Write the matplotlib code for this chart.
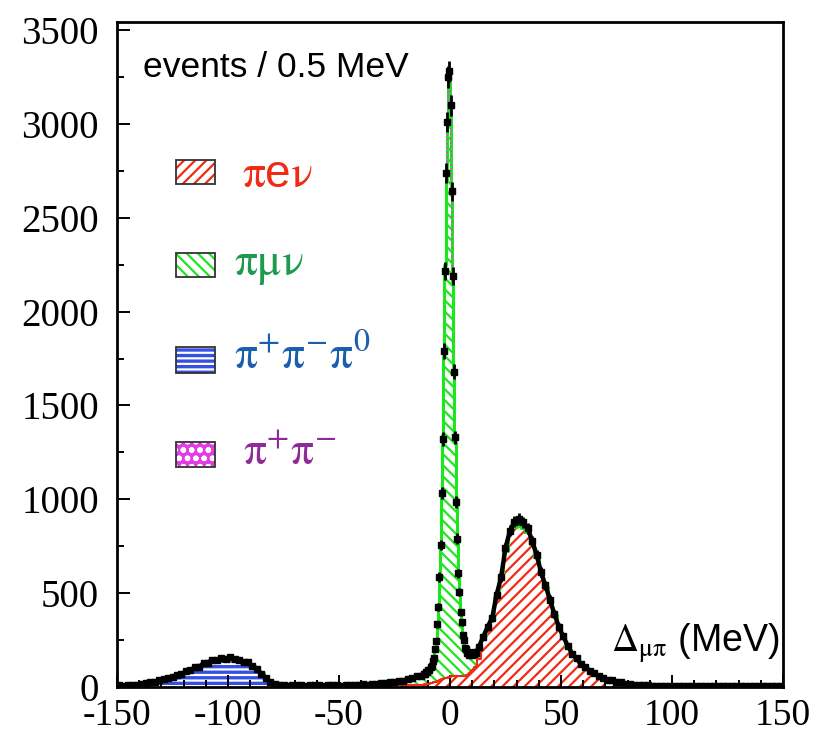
import numpy as np
import matplotlib.pyplot as plt
from matplotlib.patches import Rectangle
from matplotlib.ticker import MultipleLocator

plt.rcParams['hatch.linewidth'] = 1.6
plt.rcParams['axes.unicode_minus'] = False
plt.rcParams['mathtext.fontset'] = 'stix'

# Bin edges in MeV: 2 MeV bins in the tails, 0.5 MeV bins around the muon peak.
edges = np.concatenate([np.arange(-150, -12, 2.0),
                        np.arange(-12, 12, 0.5),
                        np.arange(12, 150.001, 2.0)])

# Heights are events per 0.5 MeV.
# --- left tail, bin centres -149 ... -13 ---
blue_left = [0, 0, 2, 4, 6, 9, 12, 16, 21, 27, 33, 40, 47, 55, 63, 72, 82, 92, 102, 112,
             120, 127, 131, 134, 136, 136, 134, 130, 124, 116, 105, 88, 64, 38, 18, 7, 2, 0,
             0, 0, 0, 0, 0, 0, 0, 0, 0, 0, 0, 0, 0, 0, 0, 0, 0, 0, 0, 0, 0, 0, 0, 0, 0, 0, 0,
             0, 0, 0, 0]
red_left = [0, 0, 0, 0, 0, 0, 0, 0, 0, 0, 0, 0, 0, 0, 0, 0, 0, 0, 0, 0,
            0, 0, 0, 0, 0, 0, 0, 0, 0, 0, 0, 0, 0, 0, 0, 0, 0, 0, 0, 0,
            0, 0, 0, 0, 0, 0, 0, 0, 0, 0, 0, 1, 2, 2, 3, 3, 4, 5, 5, 6,
            7, 8, 9, 10, 10, 11, 11, 12, 12]
green_left = [8, 8, 8, 8, 8, 8, 8, 8, 8, 8, 8, 8, 8, 8, 8, 8, 8, 8, 8, 8,
              8, 8, 8, 8, 8, 8, 8, 8, 8, 8, 8, 8, 8, 8, 8, 8, 8, 8, 8, 8,
              8, 8, 8, 8, 8, 8, 8, 8, 8, 8, 8, 8, 8, 9, 9, 10, 10, 11, 12, 13,
              14, 16, 18, 21, 25, 30, 36, 42, 50]
mag_left = [0, 0, 0, 0, 0, 0, 0, 0, 0, 0, 0, 0, 0, 0, 0, 0, 0, 0, 0, 4,
            5, 6, 7, 8, 8, 8, 7, 6, 5, 4, 0, 0, 0, 0, 0, 0, 0, 0, 0, 0,
            0, 0, 0, 0, 0, 0, 0, 0, 0, 0, 0, 0, 0, 0, 0, 0, 0, 0, 0, 0,
            0, 0, 0, 0, 0, 0, 0, 0, 0]
data_left = [10, 7, 11, 13, 12, 18, 19, 26, 27, 37, 40, 50, 53, 66, 69, 83, 88, 104, 108, 127,
             130, 146, 143, 156, 149, 158, 147, 146, 134, 131, 110, 98, 70, 48, 24, 16, 9, 10,
             7, 9, 8, 10, 7, 9, 8, 10, 7, 9, 8, 9, 7, 11, 9, 12, 11, 14, 13, 17, 16, 20,
             20, 25, 26, 33, 34, 43, 46, 56, 61]

# --- peak region, bin centres -11.75 ... 11.75 ---
red_mid = [13, 14, 15, 16, 17, 18, 20, 21, 23, 25, 27, 29, 31, 33, 35, 37, 40, 42, 44, 46,
           48, 50, 52, 54, 55, 56, 56, 56, 56, 56, 56, 56, 56, 57, 57, 58, 59, 61, 63, 66,
           69, 73, 78, 84, 90, 97, 105, 114]
green_mid = [55, 58, 62, 66, 70, 76, 84, 95, 110, 135, 170, 220, 295, 400, 540, 730, 980, 1300,
             1720, 2200, 2650, 2980, 3200, 3220, 3000, 2600, 2100, 1650, 1250, 950, 720, 560,
             440, 350, 280, 225, 185, 155, 135, 120, 110, 102, 96, 90, 85, 80, 76, 72]
mag_mid = [0, 0, 0, 0, 0, 0, 0, 0, 0, 0, 0, 0, 0, 0, 0, 0, 0, 0, 0, 0,
           10, 15, 20, 25, 20, 15, 10, 0, 0, 0, 0, 0, 0, 0, 0, 0, 0, 0, 0, 0,
           0, 0, 0, 0, 0, 0, 0, 0]
data_mid = [70, 69, 80, 79, 90, 92, 108, 113, 138, 156, 203, 244, 333, 425, 586, 755, 1035, 1320,
            1790, 2215, 2740, 3010, 3250, 3280, 3100, 2640, 2190, 1680, 1330, 985, 790, 605,
            505, 398, 345, 276, 250, 210, 203, 182, 184, 171, 178, 170, 179, 174, 186, 183]

# --- right tail, bin centres 13 ... 149 ---
red_right = [150, 250, 300, 365, 475, 585, 720, 815, 850, 855, 845, 820, 760, 690, 600, 530,
             455, 380, 315, 262, 212, 178, 145, 122, 100, 83, 68, 56, 45, 37, 30, 24, 19, 15,
             12, 9, 7, 5, 4, 3, 2, 1,
             0, 0, 0, 0, 0, 0, 0, 0, 0,
             0, 0, 0, 0, 0, 0, 0, 0, 0,
             0, 0, 0, 0, 0, 0, 0, 0, 0]
green_right = [60, 25, 12, 8, 6, 5, 5, 4, 4, 4, 4, 4, 4,
               3, 3, 3, 3, 3, 3, 3, 3, 3, 3, 3, 3, 3, 3, 3, 3, 3, 3, 3, 3, 3, 3, 3, 3,
               4, 4, 4, 4, 4, 4, 4, 4, 4, 4, 4, 4, 4, 4, 4, 4, 4, 4, 4, 4, 4, 4, 4, 4,
               4, 4, 4, 4, 4, 4, 4, 4]
data_right = [214, 268, 322, 368, 492, 584, 741, 832, 880, 895, 878, 845, 779, 705, 612, 541,
              466, 389, 322, 270, 221, 178, 152, 121, 106, 84, 74, 57, 50, 38, 35, 26, 24, 17,
              16, 11, 11, 8, 9, 7, 7, 6,
              5, 6, 4, 6, 5, 7, 4, 5, 6, 4, 5, 7, 5, 4, 6, 5, 4, 6, 5, 7, 4, 5, 6, 5, 4, 6, 5]

n_left, n_mid, n_right = len(red_left), len(red_mid), len(red_right)
blue = np.array(blue_left + [0] * n_mid + [0] * n_right, float)
red = np.array(red_left + red_mid + red_right, float)
green = np.array(green_left + green_mid + green_right, float)
mag = np.array(mag_left + mag_mid + [0] * n_right, float)
data = np.array(data_left + data_mid + data_right, float)
centres = 0.5 * (edges[:-1] + edges[1:])

RED = '#f02a14'
GREEN = '#1ee61e'
BLUE = '#3550e2'
MAG = '#e43ce4'

fig = plt.figure(figsize=(8.16, 7.34), dpi=100)
ax = fig.add_axes([117 / 816, 47 / 734, 666 / 816, 665 / 734])

# stacked Monte Carlo components
top1 = blue
top2 = top1 + red
top3 = top2 + green
top4 = top3 + mag

ax.stairs(top1, edges, baseline=0, fill=True, facecolor=BLUE, edgecolor='white',
          hatch='---', linewidth=0, zorder=1)
ax.stairs(top2, edges, baseline=top1, fill=True, facecolor='white', edgecolor=RED,
          hatch='///', linewidth=0, zorder=1)
ax.stairs(top3, edges, baseline=top2, fill=True, facecolor='white', edgecolor=GREEN,
          hatch='\\\\\\', linewidth=0, zorder=1)
ax.stairs(top4, edges, baseline=top3, fill=True, facecolor=MAG, edgecolor='white',
          hatch='oo', linewidth=0, zorder=1)


def outline(top, comp, color, lw, ls='-'):
    xs = np.repeat(edges, 2)[1:-1]
    ys = np.repeat(np.where(comp > 0, top, np.nan), 2)
    ax.plot(xs, ys, color=color, lw=lw, ls=ls, zorder=2)


outline(top1, blue, BLUE, 1.2)
outline(top2, red, RED, 1.5)
outline(top3, green, GREEN, 2.2)
outline(top4, mag, MAG, 1.2, ':')

# measured events: dense points with statistical error bars
ax.errorbar(centres, data, yerr=np.sqrt(data), fmt='s', ms=4.2, mfc='black', mec='black',
            ecolor='black', elinewidth=2.0, capsize=0, zorder=4)
# the coarse-binned tails read as a continuous band of points
ax.plot(centres[:n_left + 1], data[:n_left + 1], color='black', lw=3.2, zorder=4)
ax.plot(centres[n_left + n_mid - 1:], data[n_left + n_mid - 1:], color='black', lw=3.2,
        zorder=4)

ax.set_xlim(-150, 150)
ax.set_ylim(0, 3543)
ax.xaxis.set_major_locator(MultipleLocator(50))
ax.xaxis.set_minor_locator(MultipleLocator(10))
ax.yaxis.set_major_locator(MultipleLocator(500))
ax.yaxis.set_minor_locator(MultipleLocator(250))
ax.tick_params(which='both', direction='in', top=False, right=False, width=1.4)
ax.tick_params(axis='x', which='major', pad=8, labelsize=27)
ax.tick_params(axis='y', which='major', pad=13, labelsize=28)
ax.tick_params(which='major', length=9)
ax.tick_params(which='minor', length=5)
for lab in ax.get_xticklabels() + ax.get_yticklabels():
    lab.set_family('Liberation Serif')
for sp in ax.spines.values():
    sp.set_linewidth(2)
    sp.set_zorder(6)

fig.text(143 / 816, 1 - 77 / 734, 'events / 0.5 MeV', family='Liberation Sans',
         fontsize=25.5, va='baseline', ha='left')
fig.text(611 / 816, 1 - 652 / 734, r'$\Delta_{\mathrm{\mu\pi}}$ (MeV)',
         family='Liberation Sans', fontsize=27, va='baseline', ha='left')

# legend boxes and labels
legend_rows = [
    (0.7564, 0.0361, dict(facecolor='white', edgecolor=RED, hatch='///'),
     r'$\mathrm{\pi}$e$\mathrm{\nu}$', RED, 241.7, 186.7),
    (0.6161, 0.0361, dict(facecolor='white', edgecolor=GREEN, hatch='\\\\\\'),
     r'$\mathrm{\pi\mu\nu}$', '#1c9a4e', 234, 275),
    (0.4722, 0.0391, dict(facecolor=BLUE, edgecolor='white', hatch='---'),
     r'$\mathrm{\pi^{+}\pi^{-}\pi^{0}}$', '#1a5fae', 234, 370),
    (0.3313, 0.0376, dict(facecolor=MAG, edgecolor='white', hatch='oo'),
     r'$\mathrm{\pi^{+}\pi^{-}}$', '#8e2a9a', 243, 465),
]
for y0, h, style, label, tcol, tx, ty in legend_rows:
    ax.add_patch(Rectangle((0.0886, y0), 0.0586, h, transform=ax.transAxes,
                           linewidth=0, zorder=5, **style))
    ax.add_patch(Rectangle((0.0886, y0), 0.0586, h, transform=ax.transAxes,
                           fill=False, edgecolor='#333333', linewidth=1.3, zorder=5))
    fig.text(tx / 816, 1 - ty / 734, label, color=tcol, fontsize=33,
             family='Liberation Sans', va='baseline', ha='left')

fig.savefig('out.png', dpi=100)
